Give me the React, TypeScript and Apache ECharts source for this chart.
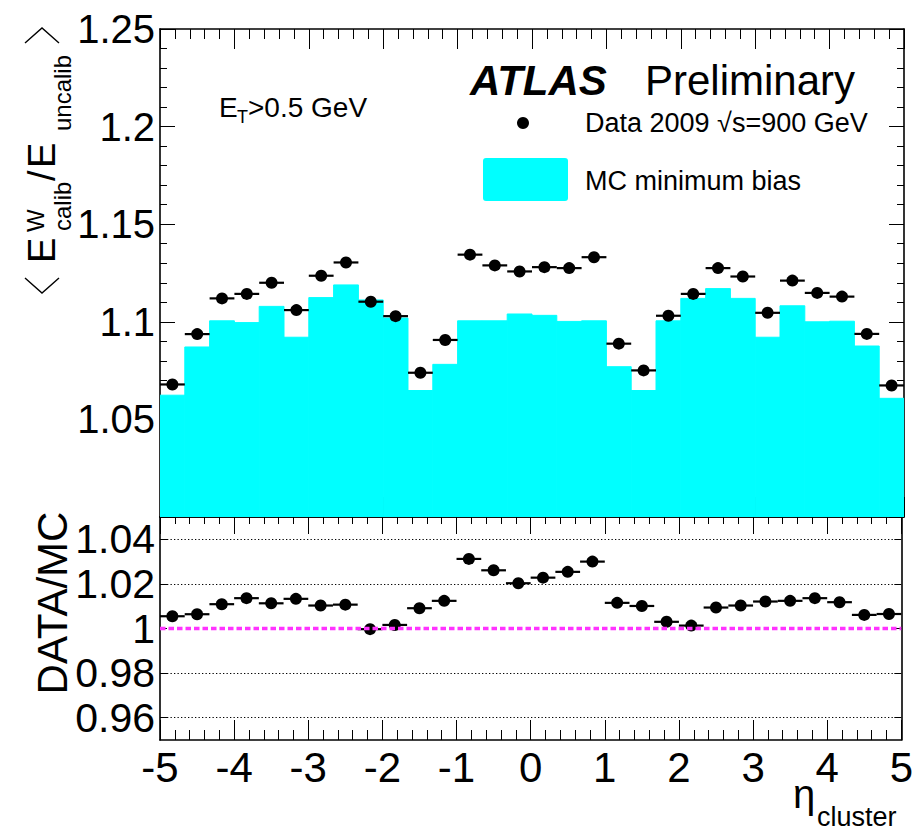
import React, { useEffect, useRef } from "react";
import * as echarts from "echarts";

const FONT = '"Liberation Sans", Arial, Helvetica, sans-serif';

// Bin edges in eta (30 bins)
const etaEdges = [
  -5, -4.6667, -4.3333, -4, -3.6667, -3.3333, -3, -2.6667, -2.3333, -2, -1.6667,
  -1.3333, -1, -0.6667, -0.3333, 0, 0.3333, 0.6667, 1, 1.3333, 1.6667, 2,
  2.3333, 2.6667, 3, 3.3333, 3.6667, 4, 4.3333, 4.6667, 5,
];

// MC minimum bias histogram
const mcValues = [
  1.0624, 1.0871, 1.1005, 1.0996, 1.1079, 1.0921, 1.1124, 1.1189, 1.1112, 1.1019,
  1.0648, 1.0782, 1.1005, 1.1005, 1.104, 1.1033, 1.1002, 1.1005, 1.077, 1.0648,
  1.1005, 1.112, 1.117, 1.112, 1.0921, 1.1082, 1.1, 1.1003, 1.0876, 1.0608,
];

// Data 2009
const dataValues = [
  1.0679, 1.0937, 1.112, 1.1143, 1.12, 1.106, 1.1236, 1.1304, 1.1103, 1.1029,
  1.0739, 1.0907, 1.1344, 1.1289, 1.1258, 1.128, 1.1275, 1.1331, 1.0888, 1.0751,
  1.1031, 1.1143, 1.1275, 1.1232, 1.1046, 1.1211, 1.1148, 1.1129, 1.0938, 1.0674,
];

// DATA/MC ratio
const ratioValues = [
  1.0055, 1.0064, 1.0109, 1.0136, 1.0113, 1.0133, 1.0103, 1.0107, 0.9997, 1.0016,
  1.0091, 1.0124, 1.0312, 1.0261, 1.0203, 1.0228, 1.0254, 1.03, 1.0115, 1.0101,
  1.003, 1.0013, 1.0094, 1.0103, 1.0121, 1.0124, 1.0136, 1.0118, 1.0061, 1.0065,
];

const xTickLabels = [-5, -4, -3, -2, -1, 0, 1, 2, 3, 4, 5];
const ratioTicks = [0.96, 0.98, 1, 1.02, 1.04];
const ratioGridLines = [0.96, 0.98, 1.02, 1.04];

const topMin = 1.0;
const topMax = 1.25;
const ratioMin = 0.95;
const ratioMax = 1.05;

export default function App() {
  const ref = useRef<HTMLDivElement>(null);

  useEffect(() => {
    if (!ref.current) return;
    const chart = echarts.init(ref.current, undefined, { renderer: "svg" });

    const binsOf = (vals: number[]) =>
      vals.map((v, i) => [etaEdges[i], etaEdges[i + 1], v]);
    const pointsOf = (vals: number[]) =>
      vals.map((v, i) => [(etaEdges[i] + etaEdges[i + 1]) / 2, v]);

    const histRender = (base: number) => (params: any, api: any) => {
      const lo = api.value(0);
      const hi = api.value(1);
      const v = api.value(2);
      const a = api.coord([lo, v]);
      const b = api.coord([hi, base]);
      return {
        type: "rect",
        shape: { x: a[0], y: a[1], width: b[0] - a[0], height: b[1] - a[1] },
        style: { fill: "#00ffff", stroke: "#00ffff", lineWidth: 1 },
      };
    };
    const errRender = (params: any, api: any) => {
      const lo = api.value(0);
      const hi = api.value(1);
      const v = api.value(2);
      const a = api.coord([lo, v]);
      const b = api.coord([hi, v]);
      return {
        type: "line",
        shape: { x1: a[0], y1: a[1], x2: b[0], y2: b[1] },
        style: { stroke: "#000", lineWidth: 2.2 },
      };
    };

    const axisLine = { show: true, onZero: false, lineStyle: { color: "#000", width: 1.6 } };
    const tickStyle = { color: "#000", width: 1 };

    const xAxisBase = (grid: number, pos: string, major: number, minor: number, labels: boolean) => ({
      type: "value",
      gridIndex: grid,
      position: pos,
      min: -5,
      max: 5,
      interval: 1,
      axisLine,
      axisTick: { show: true, inside: true, length: major, lineStyle: tickStyle },
      minorTick: { show: true, splitNumber: 5, length: minor, lineStyle: tickStyle },
      splitLine: { show: false },
      minorSplitLine: { show: false },
      axisLabel: labels
        ? {
            show: true,
            fontSize: 42,
            fontFamily: FONT,
            color: "#000",
            margin: 6,
            customValues: xTickLabels,
            formatter: (v: number) => String(Math.round(v)),
          }
        : { show: false },
    });

    const fmt = (v: number) => String(Number(v.toFixed(3)));

    const topY = (pos: string, labels: boolean) => ({
      type: "value",
      gridIndex: 0,
      position: pos,
      min: topMin,
      max: topMax,
      interval: 0.05,
      axisLine,
      axisTick: { show: true, inside: true, length: 15, lineStyle: tickStyle },
      minorTick: { show: true, splitNumber: 5, length: 7, lineStyle: tickStyle },
      splitLine: { show: false },
      minorSplitLine: { show: false },
      axisLabel: labels
        ? {
            show: true,
            fontSize: 40,
            fontFamily: FONT,
            color: "#000",
            margin: 5,
            showMinLabel: false,
            formatter: (v: number) => (Math.abs(v - 1) < 1e-6 ? "" : fmt(v)),
          }
        : { show: false },
    });

    const ratioY = (pos: string, labels: boolean) => ({
      type: "value",
      gridIndex: 1,
      position: pos,
      min: ratioMin,
      max: ratioMax,
      interval: 0.01,
      axisLine,
      axisTick: { show: true, inside: true, length: 7, lineStyle: tickStyle, customValues: ratioTicks },
      splitLine: { show: false },
      axisLabel: labels
        ? {
            show: true,
            fontSize: 41,
            fontFamily: FONT,
            color: "#000",
            margin: 5,
            customValues: ratioTicks,
            formatter: (v: number) => {
              const k = Math.round(v * 100);
              if (k % 2 !== 0 || k <= 95 || k >= 105) return "";
              return fmt(v);
            },
          }
        : { show: false },
    });

    const markData: any[] = ratioGridLines.map((y) => ({
      yAxis: y,
      lineStyle: { type: [1.3, 2.2], color: "#000", width: 1.2 },
    }));
    markData.push({
      yAxis: 1,
      lineStyle: { type: [5.5, 3], color: "#ff33ff", width: 3.4 },
    });

    const rotText = (text: string, x: number, y: number, size: number, align = "left") => ({
      type: "text",
      x,
      y,
      rotation: Math.PI / 2,
      style: {
        text,
        fontSize: size,
        fontFamily: FONT,
        fill: "#000",
        textAlign: align,
        textVerticalAlign: "middle",
      },
    });
    const txt = (text: string, x: number, y: number, size: number, extra: any = {}) => ({
      type: "text",
      x,
      y,
      style: {
        text,
        fontSize: size,
        fontFamily: FONT,
        fill: "#000",
        textAlign: "left",
        textVerticalAlign: "middle",
        ...extra,
      },
    });

    const option: any = {
      animation: false,
      backgroundColor: "#fff",
      grid: [
        { left: 160, right: 12, top: 29, height: 488, show: false },
        { left: 160, right: 12, top: 517, height: 223, show: false },
      ],
      xAxis: [
        xAxisBase(0, "bottom", 20, 10, false),
        xAxisBase(0, "top", 20, 10, false),
        xAxisBase(1, "top", 17, 7, false),
        xAxisBase(1, "bottom", 20, 10, true),
      ],
      yAxis: [topY("left", true), topY("right", false), ratioY("left", true), ratioY("right", false)],
      series: [
        {
          type: "custom",
          name: "MC minimum bias",
          xAxisIndex: 0,
          yAxisIndex: 0,
          clip: true,
          renderItem: histRender(topMin),
          encode: { x: [0, 1], y: 2 },
          data: binsOf(mcValues),
          z: 1,
        },
        {
          type: "custom",
          name: "data-err",
          xAxisIndex: 0,
          yAxisIndex: 0,
          renderItem: errRender,
          encode: { x: [0, 1], y: 2 },
          data: binsOf(dataValues),
          z: 3,
        },
        {
          type: "scatter",
          name: "Data 2009",
          xAxisIndex: 0,
          yAxisIndex: 0,
          symbol: "circle",
          symbolSize: 12,
          itemStyle: { color: "#000", opacity: 1 },
          data: pointsOf(dataValues),
          z: 4,
        },
        {
          type: "custom",
          name: "ratio-err",
          xAxisIndex: 3,
          yAxisIndex: 2,
          renderItem: errRender,
          encode: { x: [0, 1], y: 2 },
          data: binsOf(ratioValues),
          z: 3,
        },
        {
          type: "scatter",
          name: "DATA/MC",
          xAxisIndex: 3,
          yAxisIndex: 2,
          symbol: "circle",
          symbolSize: 12,
          itemStyle: { color: "#000", opacity: 1 },
          data: pointsOf(ratioValues),
          z: 4,
          markLine: {
            silent: true,
            symbol: ["none", "none"],
            label: { show: false },
            animation: false,
            data: markData,
          },
        },
      ],
      graphic: [
        // y-axis title of top panel
        {
          type: "polyline",
          shape: { points: [[25, 278], [42, 293], [59, 278]] },
          style: { stroke: "#000", lineWidth: 1.4, fill: null },
        },
        {
          type: "polyline",
          shape: { points: [[25, 43], [42, 28], [59, 43]] },
          style: { stroke: "#000", lineWidth: 1.4, fill: null },
        },
        rotText("E", 42, 263, 38),
        rotText("W", 35, 232, 24),
        rotText("calib", 62, 231, 24),
        rotText("/", 42, 181, 38),
        rotText("E", 42, 168, 38),
        rotText("uncalib", 62, 131, 24),
        // y-axis title of ratio panel
        rotText("DATA/MC", 52, 603, 42, "center"),
        // x-axis title
        txt("η", 793, 794, 40),
        txt("cluster", 817, 817, 27),
        // labels
        txt("ATLAS", 470, 80, 42, { fontWeight: "bold", fontStyle: "italic" }),
        txt("Preliminary", 645, 80, 42),
        txt("E", 219, 107, 28),
        txt("T", 237, 117, 18),
        txt(">0.5 GeV", 248, 107, 28),
        { type: "circle", shape: { cx: 523, cy: 123, r: 6 }, style: { fill: "#000" } },
        txt("Data 2009 √s=900 GeV", 585, 123, 27),
        {
          type: "rect",
          shape: { x: 483, y: 158, width: 85, height: 43, r: 3 },
          style: { fill: "#00ffff" },
        },
        txt("MC minimum bias", 585, 181, 27),
      ],
    };

    chart.setOption(option);
    return () => chart.dispose();
  }, []);

  return (
    <div
      ref={ref}
      style={{ position: "fixed", left: 0, top: 0, width: 916, height: 835, background: "#fff" }}
    />
  );
}
